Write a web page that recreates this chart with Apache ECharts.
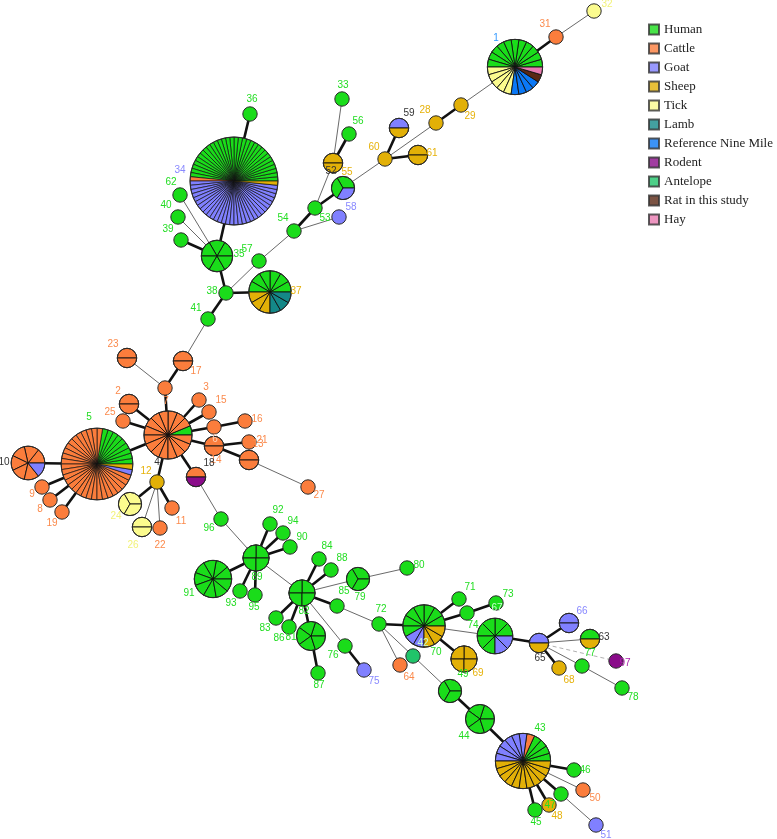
<!DOCTYPE html>
<html><head><meta charset="utf-8">
<script src="https://cdn.jsdelivr.net/npm/echarts@6/dist/echarts.min.js"></script>
<style>html,body{margin:0;padding:0;background:#fff}#c{width:777px;height:839px}</style>
</head><body><div id="c"></div>
<script>
// Categories (legend order = slice order, counter-clockwise from east)
const categories = ['Human','Cattle','Goat','Sheep','Tick','Lamb','Reference Nine Mile','Rodent','Antelope','Rat in this study','Hay'];
const catCodes = ['H','C','G','S','T','L','R','Ro','A','Ra','Hy'];
const catColors = ['#1adc1a','#fb7d3c','#8080ff','#e2b007','#fbfb8e','#148888','#0b78f5','#8a0c8a','#21c46a','#5a2814','#e97bb0'];

// Network nodes: [id, x, y, composition (isolate counts per category)]
const nodes = [
 ['1',515,67,'H11 T5 R4 Ra1 Hy1'],['31',556,37,'C1'],['32',594,11,'T1'],
 ['29',461,105,'S1'],['28',436,123,'S1'],['60',385,159,'S1'],['59',399,128,'G1 S1'],
 ['61',418,155,'S2'],['55',343,188,'H2 G1'],['52',333,163,'S2'],['56',349,134,'H1'],
 ['33',342,99,'H1'],['53',315,208,'H1'],['58',339,217,'G1'],['54',294,231,'H1'],
 ['57',259,261,'H1'],['34',234,181,'H31 C1 G31 S1'],['36',250,114,'H1'],['62',180,195,'H1'],
 ['40',178,217,'H1'],['39',181,240,'H1'],['35',217,256,'H6'],['38',226,293,'H1'],
 ['37',270,292,'H6 S3 L3'],['41',208,319,'H1'],['17',183,361,'C2'],['23',127,358,'C2'],
 ['7',165,388,'C1'],['2',129,404,'C2'],['25',123,421,'C1'],['3',199,400,'C1'],
 ['15',209,412,'C1'],['4',168,435,'H1 C15'],['6',214,427,'C1'],['16',245,421,'C1'],
 ['14',214,446,'C2'],['13',249,442,'C1'],['21',249,460,'C2'],['27',308,487,'C1'],
 ['18',196,477,'C1 Ro1'],['5',97,464,'H9 C29 G1 S1'],['10',28,463,'C6 G1'],
 ['9',42,487,'C1'],['8',50,500,'C1'],['19',62,512,'C1'],['12',157,482,'S1'],
 ['24',130,504,'T3'],['26',142,527,'T2'],['22',160,528,'C1'],['11',172,508,'C1'],
 ['96',221,519,'H1'],['89',256,558,'H4'],['92',270,524,'H1'],['94',283,533,'H1'],
 ['90',290,547,'H1'],['91',213,579,'H9'],['93',240,591,'H1'],['95',255,595,'H1'],
 ['82',302,593,'H4'],['84',319,559,'H1'],['88',331,570,'H1'],['79',358,579,'H3'],
 ['85',337,606,'H1'],['80',407,568,'H1'],['83',276,618,'H1'],['86',289,627,'H1'],
 ['81',311,636,'H5'],['87',318,673,'H1'],['76',345,646,'H1'],['75',364,670,'G1'],
 ['72',379,624,'H1'],['64',400,665,'C1'],['an',413,656,'A1'],['70',424,626,'H7 G2 S3'],
 ['71',459,599,'H1'],['u1',467,613,'H1'],['73',496,603,'H1'],['74',495,636,'H6 G2'],
 ['49',464,659,'S4'],['65',539,643,'G1 S1'],['66',569,623,'G2'],['63',590,639,'H1 S1'],
 ['68',559,668,'S1'],['77',582,666,'H1'],['97',616,661,'Ro1'],['78',622,688,'H1'],
 ['u2',450,691,'H3'],['44',480,719,'H5'],['43',523,761,'H4 C1 G6 S11'],['46',574,770,'H1'],
 ['50',583,790,'C1'],['u3',561,794,'H1'],['51',596,825,'G1'],['47',549,805,'S1'],['45',535,810,'H1']
];

// Edges: [from, to, kind]  k = close link, t = distant link, d = dashed
const edges = [
 ['32','31','t'],['31','1','k'],['1','29','t'],['29','28','k'],['28','60','t'],['60','59','k'],['60','61','k'],
 ['60','55','t'],['55','53','k'],['56','52','k'],['52','33','t'],['52','53','t'],['53','54','k'],['54','58','t'],
 ['54','57','t'],['57','38','t'],['38','37','k'],['38','35','k'],['35','34','k'],['34','36','k'],['35','62','t'],
 ['35','40','t'],['35','39','k'],['38','41','k'],['41','17','t'],['17','7','k'],['7','23','t'],['7','4','k'],
 ['4','2','k'],['4','25','k'],['4','3','k'],['4','15','k'],['4','6','k'],['6','16','k'],['4','14','k'],
 ['14','13','k'],['14','21','k'],['21','27','t'],['4','18','k'],['4','5','k'],['4','12','k'],['18','96','t'],
 ['5','10','k'],['5','9','k'],['5','8','k'],['5','19','k'],['12','24','k'],['12','26','t'],['12','22','t'],
 ['12','11','k'],['96','89','t'],['89','92','k'],['89','94','k'],['89','90','k'],['89','91','k'],['89','93','k'],
 ['89','95','k'],['89','82','t'],['82','84','k'],['82','88','k'],['82','79','t'],['82','85','k'],['82','83','k'],
 ['82','86','k'],['82','81','k'],['81','87','k'],['82','76','t'],['76','75','k'],['79','80','t'],['85','72','t'],
 ['72','70','k'],['72','64','t'],['72','an','t'],['an','u2','t'],['70','71','k'],['70','u1','k'],['u1','73','k'],
 ['70','74','t'],['70','49','k'],['74','65','k'],['65','66','k'],['65','63','t'],['65','68','k'],['65','77','t'],
 ['65','97','d'],['77','78','t'],['u2','44','k'],['44','43','k'],['43','46','k'],['43','50','t'],['43','u3','k'],
 ['u3','51','t'],['43','47','k'],['43','45','k']
];

// Labels: [node, text, dx, dy, colour key]
const labels = [
 ['1','1',-19,-29,'R'],['31','31',-11,-13,'C'],['32','32',13,-7,'T'],['29','29',9,11,'S'],['28','28',-11,-13,'S'],
 ['60','60',-11,-12,'S'],['59','59',10,-15,'k'],['61','61',14,-2,'S'],['55','55',4,-16,'S'],['52','52',-2,8,'k'],
 ['56','56',9,-13,'H'],['33','33',1,-14,'H'],['53','53',10,10,'H'],['58','58',12,-10,'G'],['54','54',-11,-13,'H'],
 ['57','57',-12,-12,'H'],['34','34',-54,-11,'G'],['36','36',2,-15,'H'],['62','62',-9,-13,'H'],['40','40',-12,-12,'H'],
 ['39','39',-13,-11,'H'],['35','35',22,-2,'H'],['38','38',-14,-2,'H'],['37','37',26,-1,'S'],['41','41',-12,-11,'H'],
 ['17','17',13,10,'C'],['23','23',-14,-14,'C'],['7','7',1,13,'C'],['2','2',-11,-13,'C'],['25','25',-13,-9,'C'],
 ['3','3',7,-13,'C'],['15','15',12,-12,'C'],['4','4',-11,27,'k'],['6','6',1,12,'Cl'],['16','16',12,-2,'C'],
 ['14','14',2,14,'C'],['13','21',13,-2,'C'],['13','13',9,2,'C'],['18','18',13,-14,'k'],['27','27',11,8,'C'],
 ['5','5',-8,-47,'H'],['10','10',-24,-1,'k'],['9','9',-10,7,'C'],['8','8',-10,9,'C'],['19','19',-10,11,'C'],
 ['12','12',-11,-11,'S'],['24','24',-14,12,'T'],['26','26',-9,18,'T'],['22','22',0,17,'C'],['11','11',9,13,'C'],
 ['96','96',-12,9,'H'],['89','89',1,19,'H'],['92','92',8,-14,'H'],['94','94',10,-12,'H'],['90','90',12,-10,'H'],
 ['91','91',-24,14,'H'],['93','93',-9,12,'H'],['95','95',-1,12,'H'],['82','82',2,18,'H'],['84','84',8,-13,'H'],
 ['88','88',11,-12,'H'],['79','79',2,18,'H'],['85','85',7,-15,'H'],['80','80',12,-3,'H'],['83','83',-11,10,'H'],
 ['86','86',-10,11,'H'],['81','81',-20,1,'H'],['87','87',1,12,'H'],['76','76',-12,9,'H'],['75','75',10,11,'G'],
 ['72','72',2,-15,'H'],['64','64',9,12,'C'],['70','42',-1,17,'Hl'],['70','70',12,26,'H'],['71','71',11,-12,'H'],
 ['73','73',12,-9,'H'],['73','67',1,5,'Hl'],['74','74',-22,-11,'H'],['49','49',-1,15,'H'],['49','69',14,14,'S'],
 ['65','65',1,15,'k'],['66','66',13,-12,'G'],['63','63',14,-2,'k'],['63','77',0,14,'H'],['68','68',10,12,'S'],
 ['97','97',9,2,'Ro'],['78','78',11,9,'H'],['44','44',-16,17,'H'],['43','43',17,-33,'H'],['46','46',11,0,'H'],
 ['50','50',12,8,'C'],['51','51',10,10,'G'],['47','47',1,0,'H'],['47','48',8,11,'S'],['45','45',1,12,'H']
];

const labelColors = {H:'#22dd22',C:'#fb8a4c',G:'#8888ff',S:'#e6b20a',T:'#f2f27a',R:'#3399ff',Ro:'#aa22aa',k:'#333333',Cl:'#ffd2b8',Hl:'#c8ffd0'};

// ---- build ----
const nodeIndex = {};
nodes.forEach((n,i)=>{ nodeIndex[n[0]] = i; });
function parseComp(s){
  const arr = new Array(categories.length).fill(0);
  s.split(/\s+/).forEach(tok=>{
    const m = tok.match(/^([A-Za-z]+)(\d+)$/);
    if(m){ arr[catCodes.indexOf(m[1])] += +m[2]; }
  });
  return arr;
}
const comps = nodes.map(n=>parseComp(n[3]));
function radiusOf(total){ return 7.2*Math.pow(total,0.435); }

const edgeSeries = {
  type:'custom', coordinateSystem:'cartesian2d', silent:true, clip:false, z:1,
  encode:{x:[0,2],y:[1,3]},
  data: edges.map(e=>{const a=nodes[nodeIndex[e[0]]], b=nodes[nodeIndex[e[1]]]; return [a[1],a[2],b[1],b[2]];}),
  renderItem(params, api){
    const kind = edges[params.dataIndex][2];
    const p1 = api.coord([api.value(0),api.value(1)]);
    const p2 = api.coord([api.value(2),api.value(3)]);
    let style;
    if(kind==='k') style={stroke:'#111',lineWidth:2.6};
    else if(kind==='t') style={stroke:'#6a6a6a',lineWidth:1};
    else style={stroke:'#b0b0b0',lineWidth:1,lineDash:[4,3]};
    return {type:'line',shape:{x1:p1[0],y1:p1[1],x2:p2[0],y2:p2[1]},style};
  }
};

const nodeSeries = {
  type:'custom', coordinateSystem:'cartesian2d', silent:true, clip:false, z:2,
  encode:{x:0,y:1},
  data: nodes.map(n=>[n[1],n[2]]),
  renderItem(params, api){
    const comp = comps[params.dataIndex];
    const total = comp.reduce((a,b)=>a+b,0);
    const c = api.coord([api.value(0),api.value(1)]);
    const r = radiusOf(total);
    const children = [];
    if(total===1){
      const k = comp.findIndex(v=>v>0);
      children.push({type:'circle',shape:{cx:c[0],cy:c[1],r},style:{fill:catColors[k],stroke:'#2a2a2a',lineWidth:1}});
    } else {
      const step = Math.PI*2/total;
      let idx = 0;
      comp.forEach((cnt,k)=>{
        for(let j=0;j<cnt;j++){
          const a0 = idx*step, a1=(idx+1)*step;
          children.push({type:'sector',shape:{cx:c[0],cy:c[1],r0:0,r,startAngle:-a0,endAngle:-a1,clockwise:false},
            style:{fill:catColors[k],stroke:'#111',lineWidth:total>30?0.7:0.9}});
          idx++;
        }
      });
      children.push({type:'circle',shape:{cx:c[0],cy:c[1],r},style:{fill:'none',stroke:'#2a2a2a',lineWidth:1}});
    }
    return {type:'group',children};
  }
};

const labelSeries = {
  type:'custom', coordinateSystem:'cartesian2d', silent:true, clip:false, z:3,
  encode:{x:0,y:1},
  data: labels.map(l=>{const n=nodes[nodeIndex[l[0]]]; return [n[1],n[2]];}),
  renderItem(params, api){
    const l = labels[params.dataIndex];
    const c = api.coord([api.value(0),api.value(1)]);
    return {type:'text',x:c[0]+l[2],y:c[1]+l[3],
      style:{text:l[1],fill:labelColors[l[4]],fontSize:10,fontFamily:'"Liberation Sans", Arial, sans-serif',
        align:'center',verticalAlign:'middle'}};
  }
};

const legendSeries = categories.map((name,i)=>({
  type:'scatter', name, data:[], itemStyle:{color:catColors[i],borderColor:'#333',borderWidth:1}
}));

const chart = echarts.init(document.getElementById('c'));
chart.setOption({
  animation:false,
  backgroundColor:'#fff',
  grid:{left:0,right:0,top:0,bottom:0},
  xAxis:{type:'value',min:0,max:777,show:false},
  yAxis:{type:'value',min:0,max:839,inverse:true,show:false},
  legend:{orient:'vertical',left:648,top:23,padding:0,itemWidth:10,itemHeight:10,itemGap:6,icon:'rect',
    selectedMode:false,data:categories,
    textStyle:{fontFamily:'"Liberation Serif", "Times New Roman", serif',fontSize:13,color:'#222',lineHeight:10}},
  series:[edgeSeries,nodeSeries,labelSeries,...legendSeries]
});
</script></body></html>
